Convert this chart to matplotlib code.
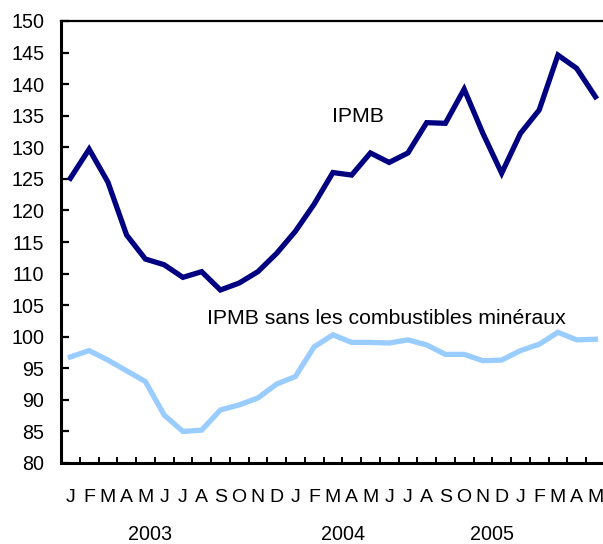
import matplotlib
matplotlib.use("Agg")
import matplotlib.pyplot as plt
import numpy as np

months = ["J", "F", "M", "A", "M", "J", "J", "A", "S", "O", "N", "D",
          "J", "F", "M", "A", "M", "J", "J", "A", "S", "O", "N", "D",
          "J", "F", "M", "A", "M"]
years = ["2003", "2004", "2005"]
year_pos = [4.25, 14.54, 22.49]

ipmb = [125.1, 129.7, 124.5, 116.1, 112.3, 111.4, 109.4, 110.3, 107.4, 108.5, 110.3, 113.2,
        116.7, 121.0, 126.0, 125.6, 129.1, 127.6, 129.1, 133.9, 133.8, 139.2, 132.2, 125.9,
        132.2, 135.9, 144.6, 142.5, 138.0]
ipmb_sans = [96.8, 97.8, 96.3, 94.6, 92.9, 87.6, 85.0, 85.2, 88.4, 89.2, 90.3, 92.5,
             93.7, 98.4, 100.3, 99.1, 99.1, 99.0, 99.5, 98.7, 97.2, 97.2, 96.2, 96.3,
             97.8, 98.8, 100.7, 99.5, 99.6]

plt.rcParams['font.family'] = ['Liberation Sans', 'DejaVu Sans']

W, H = 603, 544
fig = plt.figure(figsize=(W / 100, H / 100), dpi=100)
left, right, top, bottom = 61, 604.8, 21, 463
ax = fig.add_axes([left / W, (H - bottom) / H, (right - left) / W, (bottom - top) / H])

x = np.arange(len(months))
ax.plot(x, ipmb, color="#000080", lw=3.8, solid_joinstyle="miter", clip_on=False)
ax.plot(x, ipmb_sans, color="#99CCFF", lw=3.8, solid_joinstyle="miter", clip_on=False)

ax.set_xlim(-0.5, len(months) - 0.5)
ax.set_ylim(80, 150)

ax.set_yticks(np.arange(80, 151, 5))
ax.tick_params(axis="y", direction="in", length=5.5, width=1.6, labelsize=14.2, pad=12)

ax.set_xticks(np.arange(0.5, len(months) - 1, 1.0))
ax.set_xticklabels([])
ax.tick_params(axis="x", which="major", direction="in", length=4, width=1.4)
ax.set_xticks(x, minor=True)
ax.set_xticklabels(months, minor=True)
ax.tick_params(axis="x", which="minor", length=0, labelsize=14, pad=18.5)

ax.spines["right"].set_visible(False)
ax.spines["left"].set_linewidth(2.2)
ax.spines["bottom"].set_linewidth(2.2)
ax.spines["top"].set_linewidth(1.6)

for yr, xp in zip(years, year_pos):
    ax.annotate(yr, xy=(xp, -0.162), xycoords=("data", "axes fraction"),
                ha="center", va="center", fontsize=14.2, annotation_clip=False)

ax.text(13.95, 134.8, "IPMB", ha="left", va="center", fontsize=15.3)
ax.text(7.3, 102.9, "IPMB sans les combustibles minéraux", ha="left", va="center", fontsize=15.3)

fig.savefig("out.png", dpi=100)
